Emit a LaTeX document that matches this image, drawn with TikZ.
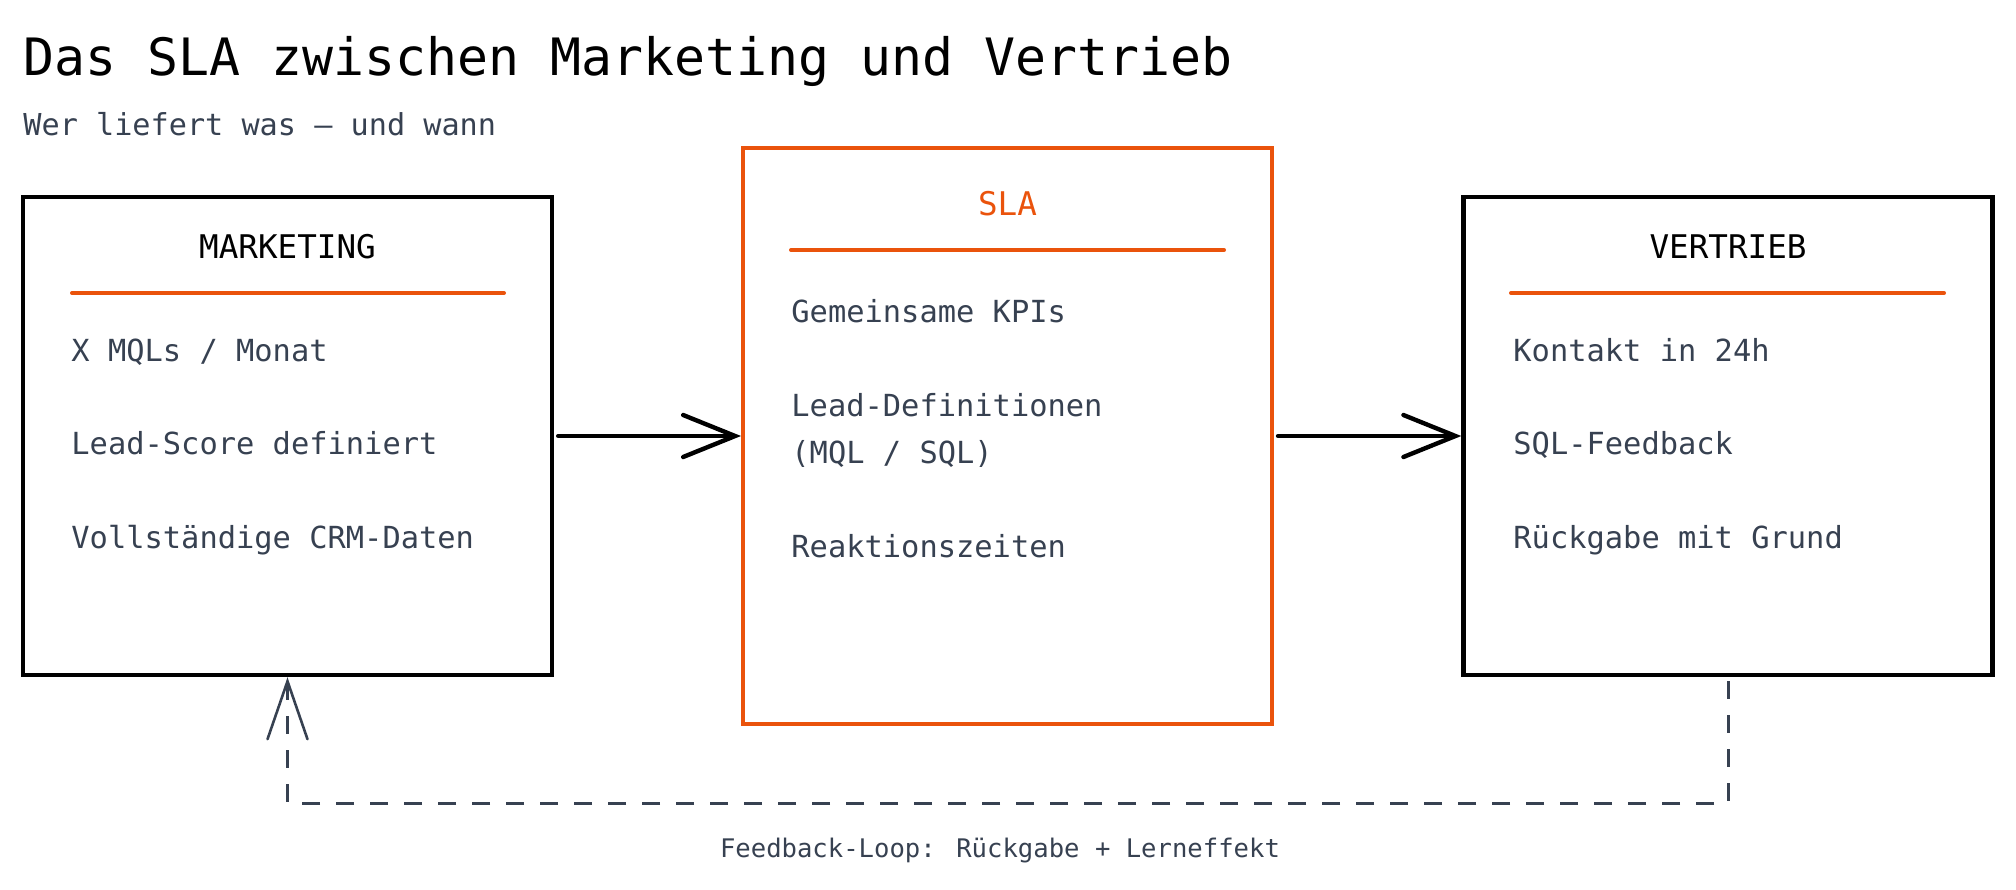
\documentclass[tikz,border=0pt]{standalone}
\usepackage{fontspec}
\setmainfont{DejaVu Sans Mono}
\setmonofont{DejaVu Sans Mono}
\usetikzlibrary{arrows.meta}
\definecolor{accent}{HTML}{EA530C}
\definecolor{ink}{HTML}{374151}
\begin{document}
\begin{tikzpicture}[x=0.5pt,y=-0.5pt,
  panel/.style={draw=black, line width=2.2pt, minimum width=264.5pt, minimum height=239pt, inner sep=0pt},
  slapanel/.style={draw=accent, line width=2pt, minimum width=264.5pt, minimum height=288pt, inner sep=0pt},
  headtxt/.style={anchor=base, inner sep=0pt, font=\fontsize{16.3}{19}\selectfont, text=black},
  itemtxt/.style={anchor=base west, inner sep=0pt, font=\fontsize{15.2}{18}\selectfont, text=ink},
  rulestyle/.style={draw=accent, line width=2pt, line cap=round},
  conn/.style={draw=black, line width=2.2pt, line cap=round, -{Straight Barb[length=26pt,width=21pt,line width=2.2pt,line cap=round]}},
  fb/.style={draw=ink, line width=1.5pt, dash pattern=on 9pt off 8pt, -{Straight Barb[length=29pt,width=20pt,line width=1.3pt,line cap=round]}}
]
\useasboundingbox (0,0) rectangle (2016,889);

% title
\node[anchor=base west, inner sep=0pt, font=\fontsize{25.75}{30}\selectfont] (title) at (23,75) {Das SLA zwischen Marketing und Vertrieb};
\node[anchor=base west, inner sep=0pt, font=\fontsize{15.1}{18}\selectfont, text=ink] (subtitle) at (23,135) {Wer liefert was – und wann};

% boxes
\node[panel] (mkt) at (287.5,436) {};
\node[slapanel] (sla) at (1007.5,436) {};
\node[panel] (vt) at (1728,436) {};

% marketing
\node[headtxt] (mkth) at (287.5,258) {MARKETING};
\draw[rulestyle] (72,293) -- (504,293);
\node[itemtxt] (m1) at (71,361) {X MQLs / Monat};
\node[itemtxt] (m2) at (71,454) {Lead-Score definiert};
\node[itemtxt] (m3) at (71,548) {Vollständige CRM-Daten};

% SLA
\node[headtxt, text=accent] (slah) at (1007.5,215) {SLA};
\draw[rulestyle] (791,250) -- (1224,250);
\node[itemtxt] (s1) at (791,322) {Gemeinsame KPIs};
\node[itemtxt] (s2) at (791,416.5) {Lead-Definitionen};
\node[itemtxt] (s3) at (791,463) {(MQL / SQL)};
\node[itemtxt] (s4) at (791,557) {Reaktionszeiten};

% Vertrieb
\node[headtxt] (vth) at (1728,258) {VERTRIEB};
\draw[rulestyle] (1511,293) -- (1944,293);
\node[itemtxt] (v1) at (1513,361) {Kontakt in 24h};
\node[itemtxt] (v2) at (1513,454) {SQL-Feedback};
\node[itemtxt] (v3) at (1513,548) {Rückgabe mit Grund};

% connectors
\draw[conn, shorten <=2pt] (mkt.east) -- (sla.west);
\draw[conn, shorten <=2pt] (sla.east) -- (vt.west);
\draw[fb, shorten <=2pt] (vt.south) -- ++(0,126) -| (mkt.south);

\node[anchor=base, inner sep=0pt, font=\fontsize{12.8}{15}\selectfont, text=ink] (fblabel) at (1000,857) {Feedback-Loop: Rückgabe + Lerneffekt};
\end{tikzpicture}
\end{document}
